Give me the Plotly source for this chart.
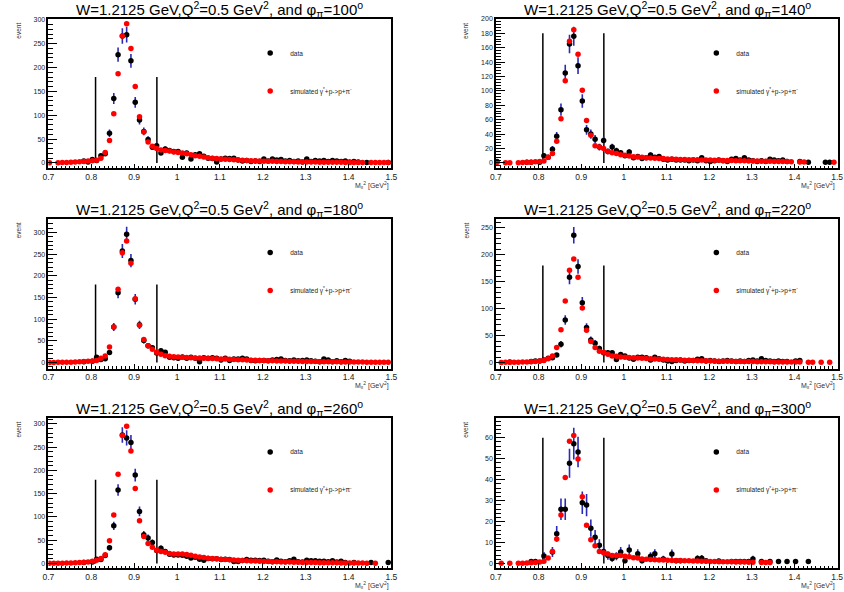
import numpy as np
import plotly.graph_objects as go

N = None
W_PX, H_PX = 844, 592

# Missing-mass^2 bin centres (GeV^2)
MX2_BINS = [
    0.7025, 0.7125, 0.7225, 0.7325, 0.7425, 0.7525, 0.7625, 0.7725, 0.7825, 0.7925,
    0.8025, 0.8125, 0.8225, 0.8325, 0.8425, 0.8525, 0.8625, 0.8725, 0.8825, 0.8925,
    0.9025, 0.9125, 0.9225, 0.9325, 0.9425, 0.9525, 0.9625, 0.9725, 0.9825, 0.9925,
    1.0025, 1.0125, 1.0225, 1.0325, 1.0425, 1.0525, 1.0625, 1.0725, 1.0825, 1.0925,
    1.1025, 1.1125, 1.1225, 1.1325, 1.1425, 1.1525, 1.1625, 1.1725, 1.1825, 1.1925,
    1.2025, 1.2125, 1.2225, 1.2325, 1.2425, 1.2525, 1.2625, 1.2725, 1.2825, 1.2925,
    1.3025, 1.3125, 1.3225, 1.3325, 1.3425, 1.3525, 1.3625, 1.3725, 1.3825, 1.3925,
    1.4025, 1.4125, 1.4225, 1.4325, 1.4425, 1.4525, 1.4625, 1.4725, 1.4825, 1.4925,
]

PHI_LABELS = ["100", "140", "180", "220", "260", "300"]

# ---------------- phi = 100 ----------------
data_phi100 = [
    N, N, N, N, N, N, N, N, 4, 2,
    7, 5, 15, 19, 62, 135, 227, 266, 269, 214,
    127, 90, 66, 49, 33, 36, 21, 29, 26, 24,
    24, 12, 21, 8, 17, 19, 14, 10, 9, 2,
    8, 10, 9, 10, 6, 4, 5, 3, 4, 3,
    8, 4, 8, 6, 7, 4, 5, 3, 4, 2,
    8, 3, 5, 4, 5, 3, 5, 4, 3, 4,
    2, 3, 2, N, 1, N, N, N, N, 1,
]
sim_phi100 = [
    0.5, N, 0.5, 0.7, 1, 1.3, 1.8, 2.3, 3, 3.8,
    4.5, 5.5, 10, 22, 47, 103, 187, 266, 292, 240,
    160, 97, 65, 44, 35, 30, 27, 26, 25, 23,
    22, 21, 19, 17, 15, 14, 12.5, 11, 10, 9,
    8, 7.5, 7, 6.5, 6, 5.5, 5, 4.7, 4.4, 4,
    3.7, 3.4, 3.2, 3, 2.8, 2.6, 2.4, 2.2, 2.1, 2,
    1.9, 1.8, 1.7, 1.6, 1.5, 1.4, 1.3, 1.2, 1.2, 1.1,
    1.0, 1, 0.9, 0.9, N, 0.8, 0.7, 0.7, 0.6, 0.6,
]

# ---------------- phi = 140 ----------------
data_phi140 = [
    2, N, N, N, N, N, N, 1, 1, N,
    1, 10, 8, 19, 37, 74, 125, 165, 176, 135,
    86, 46, 40, 33, 22, 31, 16, 22, 17, 14,
    10, 15, 7, 9, 6, 7, 11, 8, 9, 5,
    4, 5, 4, 4, 4, 3, 4, 3, 7, 3,
    2, 3, 4, 3, 2, 5, 6, 4, 7, 4,
    3, 2, 3, 2, 5, 4, 3, 4, 2, N,
    N, 2, N, 1, N, N, N, 1, 1, N,
]
sim_phi140 = [
    0.5, N, 0.3, 0.3, N, 0.3, 0.5, 0.8, 1, 1.5,
    2, 2.8, 7.8, 13, 30, 61.5, 114, 169, 185, 151,
    101, 59, 38.5, 24, 22, 20, 16, 14, 13, 11.5,
    10.5, 9.6, 8.7, 8.3, 7.8, 7.3, 6.9, 6.4, 6, 6,
    5.5, 5.3, 5.1, 4.9, 4.7, 4.5, 4.4, 4.3, 4.1, 4,
    3.9, 3.8, 3.6, 3.5, 3.3, 3.2, 3.1, 3, 2.9, 2.8,
    2.6, 2.5, 2.4, 2.3, 2.2, 2.1, 2, 1.9, 1.8, 1.7,
    N, 1.4, 1.3, N, N, N, N, N, N, 0.8,
]

# ---------------- phi = 180 ----------------
data_phi180 = [
    N, N, N, N, N, N, N, N, 2, N,
    3, 12, 7, 9, 23, 82, 161, 257, 296, 235,
    146, 87, 51, 39, 34, 22, 27, 24, 12, 11,
    10, 13, 10, 12, 10, 2, 11, 10, 11, 10,
    6, 10, 5, 8, 8, 10, 8, 5, 4, 5,
    5, 4, 6, 7, 8, 5, 4, 6, 4, 5,
    6, 4, 3, 2, 8, 6, 2, 4, 2, 5,
    3, N, N, N, N, N, N, N, N, N,
]
sim_phi180 = [
    0.3, 0.4, 0.5, 0.6, 0.8, 1, 1.3, 1.7, 2.2, 2.8,
    3.5, 4.6, 10, 15, 36, 82, 169, 253, 280, 229,
    147, 86, 53, 39, 31, 24, 19, 16, 14.5, 13.7,
    13, 12, 11.5, 11.3, 10.7, 10.5, 10, 9.6, 9.2, 8.8,
    8.4, 8, 7.6, 7.2, 6.8, 6.4, 6, 5.6, 5.2, 4.9,
    4.6, 4.3, 4, 3.8, 3.6, 3.4, 3.2, 3, 2.8, 2.6,
    2.4, 2.3, 2.2, 2.1, 2, 1.9, 1.8, 1.7, 1.6, 1.5,
    1.4, 1.3, 1.2, 1.1, 1, 1, 0.9, 0.9, 0.8, 0.8,
]

# ---------------- phi = 220 ----------------
data_phi220 = [
    N, N, N, 1, N, N, N, N, 2, 3,
    3, 5, 8, 9, 14, 34, 79, 158, 236, 178,
    111, 65, 42, 36, 26, 18, 18, 18, 5.5, 15,
    12, 8.6, 6, 10, 10, 9, 5, 10, 7, 5,
    3, 2, 4, 5, 3, 4, 4, 6, 7, 3,
    4, 3, 2, 3, 4, 3, 2, 3, 2, 4,
    5, 3, 7, 4, 3, 2, 3, 2, 2, N,
    3, 4, N, N, N, N, N, N, N, N,
]
sim_phi220 = [
    N, 0.3, 0.4, 0.5, 0.6, 0.8, 1, 1.3, 1.7, 2.2,
    2.8, 3.7, 7, 12, 28, 61, 114, 171, 192, 158,
    101, 60, 39, 28, 21, 19, 15.4, 12.3, 11.7, 10.4,
    9.8, 9.2, 8.8, 8.4, 8, 7.6, 7.2, 6.8, 6.4, 6,
    5.7, 5.4, 5.1, 4.8, 4.5, 4.2, 3.9, 3.6, 3.4, 3.2,
    3, 2.8, 2.6, 2.5, 2.4, 2.3, 2.2, 2.1, 2, 1.9,
    1.8, 1.7, 1.6, 1.5, 1.4, 1.3, 1.2, 1.1, 1.05, 1,
    0.95, 0.9, N, 0.6, 0.6, N, 0.5, N, 0.5, N,
]

# ---------------- phi = 260 ----------------
data_phi260 = [
    N, N, N, N, N, N, N, N, 2, N,
    3, 9, 8.5, 17, 34, 81, 158, 276, 270, 260,
    190, 112, 62, 55, 45, 28, 33, 26, 20, 18.5,
    18.5, 18, 15.6, 12, 13.5, 9, 7, 10.7, 10, 10,
    8.5, 9, 8.5, 4.3, 4.3, 6.4, 8.5, 7, 7, 6.4,
    7, 5, 4, 7.5, 5, 4, 6, 9, 4, 3,
    7, 6, 6, 5, 5, 4, 6, 3, 5, 2,
    N, 2, N, N, N, 2, N, N, N, 2,
]
sim_phi260 = [
    0.3, 0.4, 0.5, 0.7, 0.9, 1.2, 1.6, 2, 2.6, 3.4,
    5, 7, 11, 19, 49, 104.5, 192, 275, 295, 242,
    161, 92, 58, 43, 35, 28.4, 25.6, 24, 21.3, 20.6,
    20.6, 20.6, 19.2, 17.8, 15.6, 14.2, 12.8, 11.4, 10.7, 10,
    9.2, 8.5, 8, 7.5, 7, 6.5, 6, 5.6, 5.2, 4.8,
    4.5, 4.2, 3.9, 3.6, 3.4, 3.2, 3, 2.8, 2.6, 2.4,
    2.2, 2, 1.9, 1.8, 1.7, 1.6, 1.5, 1.4, 1.3, 1.2,
    1.1, 1, 0.9, 0.9, 0.8, N, 0.5, N, N, N,
]

# ---------------- phi = 300 ----------------
data_phi300 = [
    N, N, N, N, N, N, N, N, 1, 1,
    N, 3.6, N, 5.5, 14.2, 25.9, 25.9, 47.8, 57.2, 53.2,
    29, 27.9, 16.9, 12.5, 8.7, 5.7, 3.8, 2.4, 3.5, 5.5,
    1.3, 6.5, N, 4.7, 1.3, N, 3.5, 4.7, N, 2.2,
    N, 4.6, 1.3, 1.3, N, N, N, 2.4, 2.5, 1.3,
    N, N, 1.2, N, N, 1, 1, 1, 1, 1,
    2.2, N, 1, N, 1, N, 1, N, 1, N,
    1, N, N, 1, N, N, N, N, N, N,
]
sim_phi300 = [
    N, 0.1, N, 0.1, N, 0.2, 0.2, 0.3, 0.4, 0.5,
    0.7, 1.1, 2.7, 5.7, 11.7, 23.2, 41, 58.3, 61.1, 49.9,
    31.9, 18.3, 11.4, 8.5, 5.8, 5.1, 4.6, 3.8, 3.8, 3.8,
    3.5, 3.2, 2.8, 2.7, 2.2, 2, 1.9, 1.8, 1.7, 1.7,
    1.6, 1.5, 1.5, 1.4, 1.3, 1.3, 1.2, 1.2, 1.1, 1.1,
    1, 1, 0.9, 0.9, 0.8, 0.8, 0.7, 0.7, 0.7, 0.6,
    0.6, N, 0.5, 0.5, 0.5, N, N, N, N, N,
    N, N, N, N, N, N, N, N, N, N,
]

DATA = [data_phi100, data_phi140, data_phi180, data_phi220, data_phi260, data_phi300]
SIM = [sim_phi100, sim_phi140, sim_phi180, sim_phi220, sim_phi260, sim_phi300]

# Missing-mass cut lines and their drawn height per panel
CUT_LO, CUT_HI = 0.81, 0.953
CUT_HEIGHT = [180, 180, 180, 180, 180, 60]

# axis ranges and tick steps per panel
X_RANGES = [(0.7, 1.5), (0.7, 1.502)]
Y_RANGES = [(-11.5, 302), (-7.6, 200), (-13.7, 332), (-11, 267), (-10, 313), (-2.2, 69.5)]
Y_DTICK = [50, 20, 50, 50, 50, 10]

# ---------------- layout geometry (window pixels) ----------------
COL_X = [(43, 391), (497, 844)]
ROW_Y = [(15, 165.5), (216, 367), (416.7, 568)]

FONT = "Liberation Sans, Arial, Helvetica, sans-serif"


def fx(p):
    return p / W_PX


def fy(p):
    return 1 - p / H_PX


fig = go.Figure()
layout = dict(
    width=W_PX, height=H_PX, autosize=False,
    margin=dict(l=0, r=0, t=0, b=0),
    paper_bgcolor="white", plot_bgcolor="white",
    font=dict(family=FONT, color="black"),
    showlegend=True,
)
annotations = []

for i in range(6):
    r, c = divmod(i, 2)
    sfx = "" if i == 0 else str(i + 1)
    xref, yref = "x" + sfx, "y" + sfx
    x0, x1 = COL_X[c]
    ytop, ybot = ROW_Y[r]
    legend_name = "legend" + sfx

    layout["xaxis" + sfx] = dict(
        domain=[fx(x0), min(1.0, fx(x1))], anchor=yref, range=list(X_RANGES[c]),
        tick0=0.7, dtick=0.1, ticks="inside", ticklen=5, tickwidth=1, tickcolor="black",
        showline=True, linewidth=1.5, linecolor="black", mirror=True,
        showgrid=False, zeroline=False, ticklabeloverflow="allow",
        tickfont=dict(size=8.5, family=FONT, color="#222"),
        minor=dict(ticks="inside", ticklen=2.5, dtick=0.01, tick0=0.7,
                   tickcolor="black", showgrid=False),
    )
    dt = Y_DTICK[i]
    layout["yaxis" + sfx] = dict(
        domain=[fy(ybot), fy(ytop)], anchor=xref, range=list(Y_RANGES[i]),
        tick0=0, dtick=dt, ticks="inside", ticklen=9, tickwidth=1, tickcolor="black",
        showline=True, linewidth=1.5, linecolor="black", mirror=True,
        showgrid=False, zeroline=False,
        tickfont=dict(size=7, family=FONT, color="#222"),
        minor=dict(ticks="inside", ticklen=5, dtick=dt / 5, tick0=0,
                   tickcolor="black", showgrid=False),
    )

    # cut lines
    h = CUT_HEIGHT[i]
    fig.add_trace(go.Scatter(
        x=[CUT_LO, CUT_LO, None, CUT_HI, CUT_HI], y=[0, h, None, 0, h],
        mode="lines", line=dict(color="black", width=1.5),
        xaxis=xref, yaxis=yref, showlegend=False, hoverinfo="skip",
    ))

    d = DATA[i]
    err = [None if v is None else float(np.sqrt(v)) for v in d]
    fig.add_trace(go.Scatter(
        x=MX2_BINS, y=d, mode="markers", name="data",
        marker=dict(color="black", size=5.5),
        error_y=dict(type="data", array=err, visible=True, width=0,
                     thickness=1.6, color="#2a2ab8"),
        xaxis=xref, yaxis=yref, legend=legend_name, legendgroup="d%d" % i,
    ))
    fig.add_trace(go.Scatter(
        x=MX2_BINS, y=SIM[i], mode="markers",
        name="simulated γ<sup>*</sup>+p->p+π<sup>-</sup>",
        marker=dict(color="#ff0000", size=5.5),
        xaxis=xref, yaxis=yref, legend=legend_name, legendgroup="s%d" % i,
    ))

    lx = 271.7 if c == 0 else 724.3
    layout[legend_name] = dict(
        x=fx(lx - 24), y=fy(ytop + 19.7), xanchor="left", yanchor="top",
        bgcolor="rgba(0,0,0,0)", borderwidth=0,
        font=dict(size=6.5, family=FONT, color="#222"),
        traceorder="grouped", tracegroupgap=19,
    )

    # title
    xc = (x0 + (x1 if c == 0 else 845)) / 2
    annotations.append(dict(
        x=fx(xc), y=fy(ytop - 9.5), xref="paper", yref="paper",
        xanchor="center", yanchor="middle", showarrow=False,
        text="W=1.2125 GeV,Q<sup>2</sup>=0.5 GeV<sup>2</sup>, and φ<sub>π</sub>=%s<sup>o</sup>" % PHI_LABELS[i],
        font=dict(size=15, family=FONT, color="black"),
    ))
    # y title
    ex = 13 if c == 0 else 466.7
    annotations.append(dict(
        x=fx(ex), y=fy(ytop + 12), xref="paper", yref="paper",
        xanchor="center", yanchor="middle", showarrow=False, textangle=-90,
        text="event", font=dict(size=6.5, family=FONT, color="#333"),
    ))
    # x title
    annotations.append(dict(
        x=fx(x1 if c == 0 else 843), y=fy(ybot + 17.5), xref="paper", yref="paper",
        xanchor="right", yanchor="middle", showarrow=False,
        text="M<sub>x</sub><sup>2</sup> [GeV<sup>2</sup>]",
        font=dict(size=7, family=FONT, color="#333"),
    ))

layout["annotations"] = annotations
fig.update_layout(**layout)
# remove the browser's default 8px page margin so the figure starts at the window corner
fig.write_html("out.html", config={"displayModeBar": False},
               post_script="document.body.style.margin='0px';")
